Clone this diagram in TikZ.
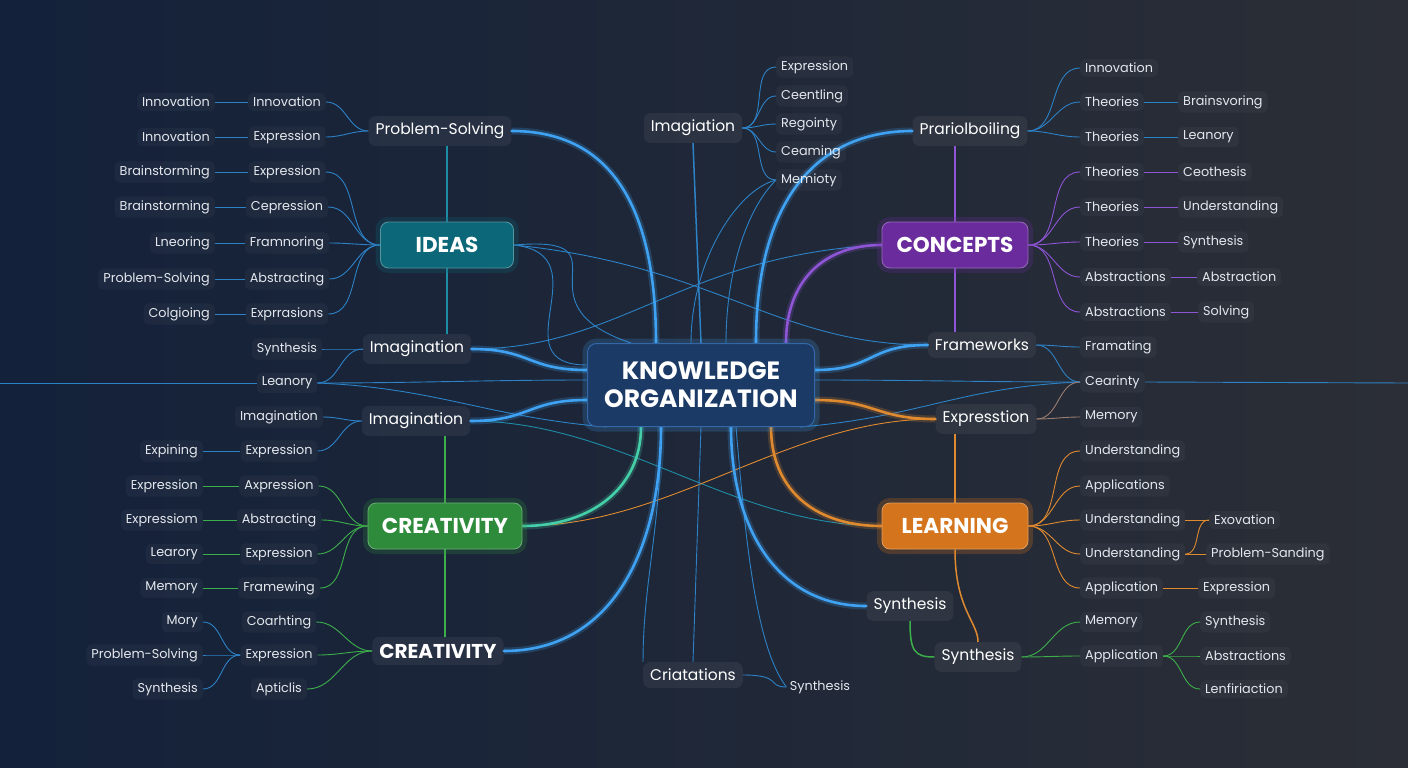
\documentclass[tikz,border=0pt]{standalone}
\usepackage{fontspec}
\setmainfont{Poppins}
\usetikzlibrary{calc,positioning}

\definecolor{bgL}{HTML}{13213A}
\definecolor{bgR}{HTML}{2B2E36}
\definecolor{leaftxt}{HTML}{E4E8EE}
\definecolor{hubfill}{HTML}{1C3A66}
\definecolor{hubdraw}{HTML}{3467A8}
\definecolor{ideasc}{HTML}{0C6878}
\definecolor{conc}{HTML}{6A2C9C}
\definecolor{crec}{HTML}{2E8B3C}
\definecolor{leac}{HTML}{D4741C}
\definecolor{lnblue}{HTML}{2D82C6}
\definecolor{lnteal}{HTML}{1E8CA6}
\definecolor{lngreen}{HTML}{3DAF4A}
\definecolor{lnpurple}{HTML}{8E55D6}
\definecolor{lnorange}{HTML}{E08A30}
\definecolor{lnbrown}{HTML}{9C7E70}
\definecolor{thickblue}{HTML}{3FA2F2}
\definecolor{thickteal}{HTML}{45CFA8}

\pgfdeclarelayer{bgfill}
\pgfdeclarelayer{lines}
\pgfsetlayers{bgfill,lines,main}

\tikzset{
  leaf/.style={font=\fontsize{12.8}{14}\selectfont, text=leaftxt, fill=white, fill opacity=0.035, text opacity=1, rounded corners=5pt, inner xsep=5pt, inner ysep=4pt},
  bare/.style={font=\fontsize{12.8}{14}\selectfont, text=leaftxt},
  sub/.style={font=\fontsize{15.5}{18}\selectfont, text=white, fill=white, fill opacity=0.06, text opacity=1, rounded corners=7pt, inner xsep=7pt, inner ysep=7pt},
  topic/.style={font=\fontsize{21.5}{24}\selectfont\bfseries, text=white, rounded corners=8pt, minimum height=46pt, inner xsep=12pt, fill=#1, draw=#1!70!white, line width=0.8pt, preaction={draw=#1, draw opacity=0.25, line width=10pt}},
  hubbox/.style={font=\fontsize{25}{28}\selectfont\bfseries, text=white, align=center, rounded corners=9pt, minimum width=227pt, minimum height=83pt, fill=hubfill, draw=hubdraw, line width=1pt, preaction={draw=thickblue, draw opacity=0.2, line width=10pt}},
  bl/.style={draw=lnblue, line width=0.9pt},
  tl/.style={draw=lnteal, line width=0.9pt},
  gl/.style={draw=lngreen, line width=0.9pt},
  pl/.style={draw=lnpurple, line width=0.9pt},
  ol/.style={draw=lnorange, line width=0.9pt},
  brl/.style={draw=lnbrown, line width=0.9pt},
  stem/.style={line width=1.5pt},
  glow/.style={draw=#1, line width=2.6pt, line cap=round, preaction={draw=#1, line width=7pt, draw opacity=0.22}},
}

\begin{document}
\begin{tikzpicture}[x=1pt,y=1pt]
    \useasboundingbox (0,0) rectangle (1408,-768);
    \begin{pgfonlayer}{bgfill}
        \shade[left color=bgL, right color=bgR] (0,0) rectangle (1408,-768);
    \end{pgfonlayer}

    % centre and topics
    \node[hubbox] (hub) at (701,-385) {KNOWLEDGE\\ORGANIZATION};
    \node[topic=ideasc, minimum width=133pt] (ideas) at (447,-245) {IDEAS};
    \node[topic=conc, minimum width=146pt] (con) at (955,-245) {CONCEPTS};
    \node[topic=crec, minimum width=154pt] (cre) at (445,-526) {CREATIVITY};
    \node[topic=leac, minimum width=146pt] (lea) at (955,-526) {LEARNING};
    \node[sub, font=\fontsize{20}{22}\selectfont\bfseries] (cre2) at (438,-651) {CREATIVITY};

    % branches
    \node[sub] (ps) at (440,-131) {Problem-Solving};
    \node[sub] (im1) at (417,-349) {Imagination};
    \node[sub] (im2) at (416,-421) {Imagination};
    \node[sub] (ima) at (693,-128) {Imagiation};
    \node[sub] (pra) at (970,-131) {Prariolboiling};
    \node[sub] (fw) at (982,-345) {Frameworks};
    \node[sub] (ex) at (986,-419) {Expresstion};
    \node[sub] (sy1) at (910,-606) {Synthesis};
    \node[sub] (sy2) at (978,-657) {Synthesis};
    \node[sub] (cri) at (693,-675) {Criatations};
    \node[bare] (sy3) at (820,-687) {Synthesis};

    % left leaves
    \foreach \n/\y/\t in {1/102/Innovation, 2/137/Innovation, 3/172/Brainstorming, 4/207/Brainstorming, 5/243/Lneoring, 6/279/Problem-Solving, 7/314/Colgioing}
        \node[leaf, anchor=east] (a\n) at (215,-\y) {\t};
    \foreach \n/\y/\t in {11/451/Expining, 12/486/Expression, 13/520/Expressiom, 14/554/Learory, 15/588/Memory, 16/622/Mory, 17/655/Problem-Solving, 18/689/Synthesis}
        \node[leaf, anchor=east] (a\n) at (203,-\y) {\t};
    \foreach \n/\y/\t in {1/102/Innovation, 2/137/Expression, 3/172/Expression, 4/207/Cepression, 5/243/Framnoring, 6/279/Abstracting, 7/314/Exprrasions, 8/349/Synthesis, 9/383/Leanory}
        \node[leaf] (b\n) at (287,-\y) {\t};
    \foreach \n/\y/\t in {10/417/Imagination, 11/451/Expression, 12/486/Axpression, 13/520/Abstracting, 14/554/Expression, 15/588/Framewing, 16/622/Coarhting, 17/655/Expression, 18/689/Apticlis}
        \node[leaf] (b\n) at (279,-\y) {\t};

    % right leaves
    \foreach \n/\y/\t in {1/67/Expression, 2/96/Ceentling, 3/124/Regointy, 4/152/Ceaming, 5/180/Memioty}
        \node[leaf, anchor=west] (m\n) at (776,-\y) {\t};
    \foreach \n/\y/\t in {1/68/Innovation, 2/102/Theories, 3/137/Theories, 4/172/Theories, 5/207/Theories, 6/242/Theories, 7/277/Abstractions, 8/312/Abstractions, 9/347/Framating, 10/382/Cearinty, 11/417/Memory, 12/451/Understanding, 13/486/Applications, 14/520/Understanding, 15/554/Understanding, 16/588/Application, 17/622/Memory, 18/656/Application}
        \node[leaf, anchor=west] (c\n) at (1080,-\y) {\t};
    \foreach \n/\x/\y/\t in {2/1178/102/Brainsvoring, 3/1178/137/Leanory, 4/1178/172/Ceothesis, 5/1178/207/Understanding, 6/1178/242/Synthesis, 7/1197/277/Abstraction, 8/1198/312/Solving, 14/1209/520/Exovation, 15/1206/554/Problem-Sanding, 16/1198/588/Expression}
        \node[leaf, anchor=west] (d\n) at (\x,-\y) {\t};
    \foreach \n/\y/\t in {1/622/Synthesis, 2/656/Abstractions, 3/689/Lenfiriaction}
        \node[leaf, anchor=west] (e\n) at (1200,-\y) {\t};

    \coordinate (ledge) at (0,-383);
    \coordinate (redge) at (1408,-383);

    \begin{pgfonlayer}{lines}
    % thin web
    \draw[bl] (ideas.east) .. controls +(120,10) and +(-120,40) .. ($(hub.north)+(-70,0)$);
    \draw[bl] (ideas.east) .. controls +(90,-10) and +(-90,0) .. ($(hub.west)+(0,20)$);
    \draw[bl] (ideas.east) .. controls +(200,-20) and +(-150,0) .. (fw.west);
    \draw[bl] (con.west) .. controls +(-200,-10) and +(150,0) .. (im1.east);
    \draw[bl] (b9.east) .. controls +(100,0) and +(-100,0) .. ($(hub.west)+(0,5)$);
    \draw[bl] (b9.east) .. controls +(120,-5) and +(-120,10) .. ($(hub.south west)+(20,0)$);
    \draw[bl] (c10.west) .. controls +(-100,0) and +(100,0) .. ($(hub.east)+(0,5)$);
    \draw[bl] (c10.west) .. controls +(-120,-5) and +(120,10) .. ($(hub.south east)+(-15,0)$);
    \draw[bl] (m5.west) .. controls +(-40,-10) and +(0,80) .. ($(hub.north)+(-10,0)$);
    \draw[bl] (m5.west) .. controls +(-30,-30) and +(0,70) .. ($(hub.north)+(25,0)$);
    \draw[tl] (im2.east) .. controls +(150,0) and +(-150,0) .. (lea.west);
    \draw[ol] (ex.west) .. controls +(-150,0) and +(150,0) .. (cre.east);
    \draw[bl] (hub.south) -- (cri.north);
    \draw[bl] ($(hub.south)+(-40,0)$) .. controls +(0,-100) and +(0,80) .. (cri.north west);
    \draw[bl] ($(hub.south)+(35,0)$) .. controls +(10,-120) and +(-30,40) .. (sy3.west);
    \draw[bl] (cri.east) .. controls +(40,0) and +(-20,0) .. (sy3.west);
    \draw[bl] (ledge) -- (b9.west);
    \draw[bl] (c10.east) -- (redge);
    \draw[bl, stem] (ima.south) -- (hub.north);

    % thick glowing branches
    \draw[glow=thickblue] (ps.east) .. controls +(90,0) and +(0,150) .. ($(hub.north)+(-45,0)$);
    \draw[glow=thickblue] (pra.west) .. controls +(-90,0) and +(0,150) .. ($(hub.north)+(55,0)$);
    \draw[glow=lnpurple] (con.west) .. controls +(-60,0) and +(0,60) .. ($(hub.north)+(85,0)$);
    \draw[glow=thickblue] (im1.east) .. controls +(60,0) and +(-60,0) .. ($(hub.west)+(0,15)$);
    \draw[glow=thickblue] (im2.east) .. controls +(60,0) and +(-60,0) .. ($(hub.west)+(0,-15)$);
    \draw[glow=thickblue] (fw.west) .. controls +(-60,0) and +(60,0) .. ($(hub.east)+(0,15)$);
    \draw[glow=lnorange] (ex.west) .. controls +(-60,0) and +(60,0) .. ($(hub.east)+(0,-15)$);
    \draw[glow=thickteal] (cre.east) .. controls +(70,0) and +(0,-60) .. ($(hub.south)+(-60,0)$);
    \draw[glow=lnorange] (lea.west) .. controls +(-70,0) and +(0,-60) .. ($(hub.south)+(70,0)$);
    \draw[glow=thickblue] (cre2.east) .. controls +(110,0) and +(0,-120) .. ($(hub.south)+(-40,0)$);
    \draw[glow=thickblue] (sy1.west) .. controls +(-90,0) and +(0,-100) .. ($(hub.south)+(30,0)$);

    % vertical stems
    \draw[tl, stem] (ideas.north) -- (ideas.north |- ps.south);
    \draw[tl, stem] (ideas.south) -- (ideas.south |- im1.north);
    \draw[gl, stem] (cre.north) -- (cre.north |- im2.south);
    \draw[gl, stem] (cre.south) -- (cre.south |- cre2.north);
    \draw[pl, stem] (con.north) -- (con.north |- pra.south);
    \draw[pl, stem] (con.south) -- (con.south |- fw.north);
    \draw[ol, stem] (lea.north) -- (lea.north |- ex.south);
    \draw[ol, stem] (lea.south) .. controls +(0,-60) and +(0,20) .. (sy2.north);
    \draw[gl, stem] (sy1.south) .. controls +(0,-30) and +(-20,0) .. (sy2.west);

    % left fans
    \foreach \n in {1,...,7} \draw[bl] (a\n.east) -- (b\n.west);
    \draw[bl] (a11.east) -- (b11.west);
    \foreach \n in {12,...,15} \draw[gl] (a\n.east) -- (b\n.west);
    \foreach \n in {16,17,18} \draw[bl] (a\n.east) to[out=0,in=180] (b17.west);
    \foreach \n in {1,2} \draw[bl] (ps.west) to[out=180,in=0] (b\n.east);
    \foreach \n in {3,...,7} \draw[bl] (ideas.west) to[out=180,in=0] (b\n.east);
    \foreach \n in {8,9} \draw[bl] (im1.west) to[out=180,in=0] (b\n.east);
    \foreach \n in {10,11} \draw[bl] (im2.west) to[out=180,in=0] (b\n.east);
    \foreach \n in {12,...,15} \draw[gl] (cre.west) to[out=180,in=0] (b\n.east);
    \foreach \n in {16,17,18} \draw[gl] (cre2.west) to[out=180,in=0] (b\n.east);

    % right fans
    \foreach \n in {1,...,5} \draw[bl] (ima.east) to[out=0,in=180] (m\n.west);
    \foreach \n in {1,2,3} \draw[bl] (pra.east) to[out=0,in=180] (c\n.west);
    \foreach \n in {2,3} \draw[bl] (c\n.east) -- (d\n.west);
    \foreach \n in {4,...,8} \draw[pl] (con.east) to[out=0,in=180] (c\n.west);
    \foreach \n in {4,...,8} \draw[pl] (c\n.east) -- (d\n.west);
    \foreach \n in {9,10} \draw[bl] (fw.east) to[out=0,in=180] (c\n.west);
    \foreach \n in {10,11} \draw[brl] (ex.east) to[out=0,in=180] (c\n.west);
    \foreach \n in {12,...,16} \draw[ol] (lea.east) to[out=0,in=180] (c\n.west);
    \draw[ol] (c14.east) -- (d14.west);
    \draw[ol] (c15.east) to[out=0,in=180] (d14.west);
    \draw[ol] (c15.east) -- (d15.west);
    \draw[ol] (c16.east) -- (d16.west);
    \foreach \n in {17,18} \draw[gl] (sy2.east) to[out=0,in=180] (c\n.west);
    \foreach \n in {1,2,3} \draw[gl] (c18.east) to[out=0,in=180] (e\n.west);
    \end{pgfonlayer}

\end{tikzpicture}
\end{document}
